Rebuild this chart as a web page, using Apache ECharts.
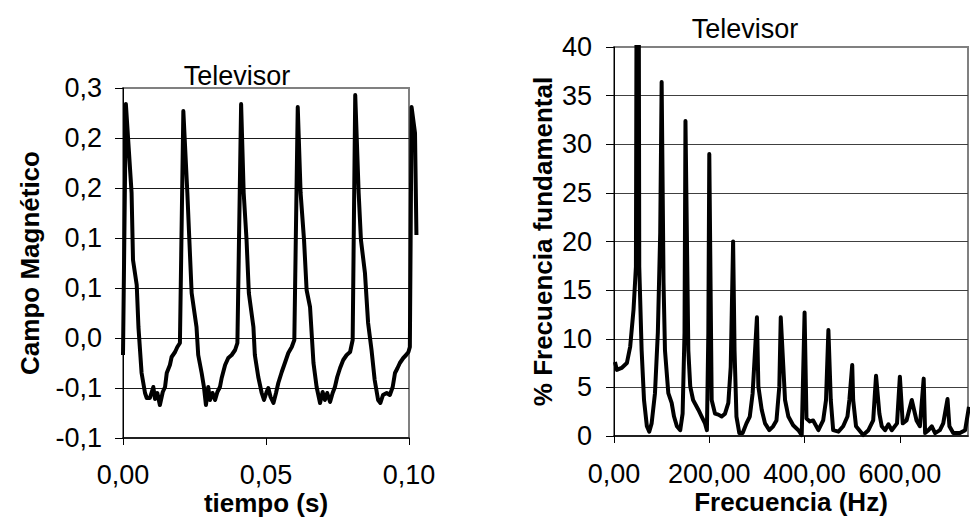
<!DOCTYPE html>
<html>
<head>
<meta charset="utf-8">
<script src="https://cdn.jsdelivr.net/npm/echarts@6/dist/echarts.min.js"></script>
<style>
html,body{margin:0;padding:0;background:#fff;}
#c{width:970px;height:519px;}
</style>
</head>
<body>
<div id="c"></div>
<script>
// ---- Left panel: magnetic field vs time ----
const timeS = [
  0.0000, 0.0010, 0.0030, 0.0035, 0.0048, 0.0054, 0.0065, 0.0077, 0.0083, 0.0094, 0.0106, 0.0112, 0.0120, 0.0129, 0.0139, 0.0147, 0.0153, 0.0164, 0.0170, 0.0182, 0.0190, 0.0199,
  0.0211, 0.0225, 0.0232, 0.0240, 0.0257, 0.0263, 0.0275, 0.0283, 0.0290, 0.0298, 0.0304, 0.0313, 0.0322, 0.0330, 0.0339, 0.0345, 0.0357, 0.0368, 0.0380, 0.0392, 0.0400,
  0.0413, 0.0422, 0.0432, 0.0440, 0.0456, 0.0461, 0.0473, 0.0485, 0.0493, 0.0502, 0.0508, 0.0516, 0.0526, 0.0535, 0.0543, 0.0555, 0.0566, 0.0578, 0.0590, 0.0599,
  0.0611, 0.0621, 0.0633, 0.0642, 0.0654, 0.0666, 0.0677, 0.0689, 0.0698, 0.0706, 0.0714, 0.0724, 0.0733, 0.0741, 0.0749, 0.0759, 0.0770, 0.0782, 0.0794, 0.0803,
  0.0812, 0.0824, 0.0832, 0.0846, 0.0857, 0.0869, 0.0880, 0.0892, 0.0900, 0.0909, 0.0922, 0.0933, 0.0943, 0.0951, 0.0960, 0.0968, 0.0980, 0.0990, 0.0998, 0.1003,
  0.1009, 0.1021, 0.1026
];
const fieldT = [
  -0.017, 0.234, 0.145, 0.078, 0.053, 0.011, -0.035, -0.055, -0.060, -0.060, -0.049, -0.061, -0.055, -0.067, -0.054, -0.049, -0.035, -0.027, -0.019, -0.014, -0.009, -0.005,
  0.227, 0.145, 0.098, 0.045, 0.011, -0.017, -0.035, -0.049, -0.067, -0.049, -0.062, -0.055, -0.062, -0.054, -0.049, -0.040, -0.027, -0.020, -0.017, -0.012, -0.005,
  0.234, 0.145, 0.098, 0.045, 0.011, -0.017, -0.039, -0.055, -0.062, -0.054, -0.050, -0.059, -0.065, -0.055, -0.045, -0.034, -0.025, -0.015, -0.009, -0.002,
  0.231, 0.145, 0.098, 0.048, 0.031, -0.025, -0.049, -0.065, -0.054, -0.062, -0.055, -0.064, -0.055, -0.049, -0.039, -0.030, -0.022, -0.017, -0.014, -0.002,
  0.243, 0.145, 0.098, 0.065, 0.015, -0.012, -0.042, -0.062, -0.065, -0.057, -0.055, -0.057, -0.049, -0.035, -0.030, -0.025, -0.020, -0.017, -0.014, -0.009,
  0.231, 0.205, 0.103
];
const leftYTickLabels = ['-0,1', '-0,1', '0,0', '0,1', '0,1', '0,2', '0,2', '0,3'];
const leftXTickLabels = ['0,00', '0,05', '0,10'];

// ---- Right panel: spectrum ----
const freqHz = [
  2, 6, 16, 27, 34, 41, 46, 50, 53, 58, 63, 69, 74, 79, 86, 92, 97, 100,
  104, 107, 114, 121, 126, 132, 139, 144, 148, 150,
  156, 160, 166, 177, 184, 191, 195, 198, 200,
  205, 212, 219, 226, 233, 240, 245, 250,
  253, 257, 263, 270, 278, 285, 291, 300,
  303, 310, 317, 326, 334, 341, 347, 350,
  359, 366, 376, 387, 394, 400,
  404, 411, 418, 429, 439, 445, 450,
  455, 460, 471, 481, 490, 494, 500,
  502, 508, 523, 534, 544, 550,
  557, 562, 569, 576, 583, 594, 600,
  606, 614, 625, 635, 642, 650,
  653, 660, 667, 674, 684, 691, 700,
  704, 712, 726, 737, 745
];
const pctFund = [
  7.6, 6.8, 7.0, 7.5, 9.2, 13.0, 17.4, 100, 17.4, 8.8, 3.7, 1.0, 0.45, 1.3, 4.4, 10.6, 20.9, 36.4,
  15.7, 8.8, 4.4, 3.4, 2.0, 1.0, 0.6, 2.3, 10.6, 32.4,
  8.8, 5.1, 3.7, 2.7, 2.0, 1.3, 0.6, 10.6, 29.0,
  3.7, 2.3, 2.2, 2.0, 2.3, 3.4, 7.1, 20.0,
  8.8, 2.0, 0.3, 0.3, 1.3, 2.0, 4.4, 12.2,
  5.1, 2.7, 1.3, 0.6, 1.0, 1.6, 5.1, 12.2,
  3.7, 2.0, 1.1, 0.6, 0.1, 12.7,
  1.8, 1.5, 1.6, 0.6, 1.6, 3.7, 10.9,
  3.7, 0.6, 0.45, 1.0, 2.0, 3.7, 7.3,
  3.7, 1.0, 0.1, 0.6, 1.6, 6.2,
  2.3, 1.0, 0.6, 1.2, 0.6, 1.3, 6.1,
  1.3, 1.6, 3.7, 1.6, 1.0, 5.9,
  0.3, 0.6, 1.0, 0.3, 0.6, 1.3, 3.8,
  1.0, 0.3, 0.3, 0.6, 3.0
];
const rightXTickValues = [0, 200, 400, 600];
const rightXTickLabels = ['0,00', '200,00', '400,00', '600,00'];
const rightYTickLabels = ['0', '5', '10', '15', '20', '25', '30', '35', '40'];

const panelTitle = 'Televisor';
const leftXName = 'tiempo (s)';
const leftYName = 'Campo Magnético';
const rightXName = 'Frecuencia (Hz)';
const rightYName = '% Frecuencia fundamental';

const FONT = "'Liberation Sans', Arial, sans-serif";
const FS = 27;   // regular texts
const FSB = 26;  // bold axis titles

const chart = echarts.init(document.getElementById('c'), null, {renderer: 'svg', width: 970, height: 519});

const labelStyle = {fontSize: FS, color: '#000', fontFamily: FONT};
const xLabelStyle = {fontSize: FS, color: '#000', fontFamily: FONT, lineHeight: 22};
const nameStyle = {fontSize: FSB, color: '#000', fontFamily: FONT, fontWeight: 'bold'};
const xNameStyle = {fontSize: FSB, color: '#000', fontFamily: FONT, fontWeight: 'bold', lineHeight: 22};

// left plot box geometry (the trace runs slightly past the right edge of the box)
const L = {left: 123, top: 88, width: 286, height: 350};
const leftXMax = 0.1, leftTraceXMax = 0.104;

const option = {
  backgroundColor: '#ffffff',
  animation: false,
  textStyle: {fontFamily: FONT},
  title: [
    {text: panelTitle, left: 237, top: 62, textAlign: 'center', padding: 0,
     textStyle: {fontSize: FS, fontWeight: 'normal', color: '#000', fontFamily: FONT}},
    {text: panelTitle, left: 745, top: 15, textAlign: 'center', padding: 0,
     textStyle: {fontSize: FS, fontWeight: 'normal', color: '#000', fontFamily: FONT}}
  ],
  grid: [
    {left: L.left, top: L.top, width: L.width, height: L.height, show: true, borderColor: '#808080', borderWidth: 2,
     backgroundColor: 'transparent', containLabel: false, outerBoundsMode: 'none'},
    {left: 614, top: 47, width: 354, height: 389, show: true, borderColor: '#808080', borderWidth: 2,
     backgroundColor: 'transparent', containLabel: false, outerBoundsMode: 'none'},
    // same scale as the left box, a bit wider, to carry the trace past the box edge
    {left: L.left, top: L.top, width: L.width * leftTraceXMax / leftXMax, height: L.height, show: false,
     containLabel: false, outerBoundsMode: 'none'}
  ],
  xAxis: [
    {
      type: 'value', gridIndex: 0, min: 0, max: leftXMax, interval: 0.05,
      name: leftXName, nameLocation: 'middle', nameGap: 54, nameMoveOverlap: false, nameTextStyle: xNameStyle,
      axisLine: {show: true, onZero: false, lineStyle: {color: '#000', width: 1.5}},
      axisTick: {show: true, inside: false, length: 7, lineStyle: {color: '#000', width: 1}},
      axisLabel: Object.assign({margin: 26, formatter: function (v) {
        const i = Math.round(v / 0.05);
        return leftXTickLabels[i] !== undefined ? leftXTickLabels[i] : '';
      }}, xLabelStyle),
      splitLine: {show: false}
    },
    {
      type: 'value', gridIndex: 1, min: 0, max: 743, interval: 200,
      name: rightXName, nameLocation: 'middle', nameGap: 55, nameMoveOverlap: false, nameTextStyle: xNameStyle,
      axisLine: {show: true, onZero: false, lineStyle: {color: '#000', width: 1.5}},
      axisTick: {show: true, inside: false, length: 7, customValues: rightXTickValues, lineStyle: {color: '#000', width: 1}},
      axisLabel: Object.assign({margin: 27, customValues: rightXTickValues, hideOverlap: false, formatter: function (v) {
        const i = rightXTickValues.indexOf(v);
        return i >= 0 ? rightXTickLabels[i] : '';
      }}, xLabelStyle),
      splitLine: {show: false}
    },
    {type: 'value', gridIndex: 2, min: 0, max: leftTraceXMax, show: false,
     axisLine: {show: false}, axisTick: {show: false}, axisLabel: {show: false}, splitLine: {show: false}}
  ],
  yAxis: [
    {
      type: 'value', gridIndex: 0, min: -0.1, max: 0.25, interval: 0.05,
      name: leftYName, nameLocation: 'middle', nameGap: 80, nameMoveOverlap: false, nameTextStyle: nameStyle,
      axisLine: {show: true, onZero: false, lineStyle: {color: '#000', width: 1}},
      axisTick: {show: true, inside: false, length: 8, lineStyle: {color: '#000', width: 1}},
      axisLabel: Object.assign({margin: 21, formatter: function (v) {
        const i = Math.round((v + 0.1) / 0.05);
        return leftYTickLabels[i] !== undefined ? leftYTickLabels[i] : '';
      }}, labelStyle),
      splitLine: {show: true, showMinLine: false, showMaxLine: false, lineStyle: {color: '#1a1a1a', width: 1}}
    },
    {
      type: 'value', gridIndex: 1, min: 0, max: 40, interval: 5,
      name: rightYName, nameLocation: 'middle', nameGap: 58, nameMoveOverlap: false, nameTextStyle: nameStyle,
      axisLine: {show: true, onZero: false, lineStyle: {color: '#000', width: 1}},
      axisTick: {show: true, inside: false, length: 8, lineStyle: {color: '#000', width: 1}},
      axisLabel: Object.assign({margin: 22, formatter: function (v) {
        const i = Math.round(v / 5);
        return rightYTickLabels[i] !== undefined ? rightYTickLabels[i] : '';
      }}, labelStyle),
      splitLine: {show: true, showMinLine: false, showMaxLine: false, lineStyle: {color: '#404040', width: 1}}
    },
    {type: 'value', gridIndex: 2, min: -0.1, max: 0.25, show: false,
     axisLine: {show: false}, axisTick: {show: false}, axisLabel: {show: false}, splitLine: {show: false}}
  ],
  series: [
    {
      type: 'line', xAxisIndex: 2, yAxisIndex: 2, showSymbol: false, symbol: 'none', clip: false,
      lineStyle: {color: '#000', width: 4, join: 'round'},
      data: timeS.map((t, i) => [t, fieldT[i]])
    },
    {
      type: 'line', xAxisIndex: 1, yAxisIndex: 1, showSymbol: false, symbol: 'none', clip: true,
      lineStyle: {color: '#000', width: 4, join: 'round'},
      data: freqHz.map((f, i) => [f, pctFund[i]])
    }
  ]
};
chart.setOption(option);
</script>
</body>
</html>
